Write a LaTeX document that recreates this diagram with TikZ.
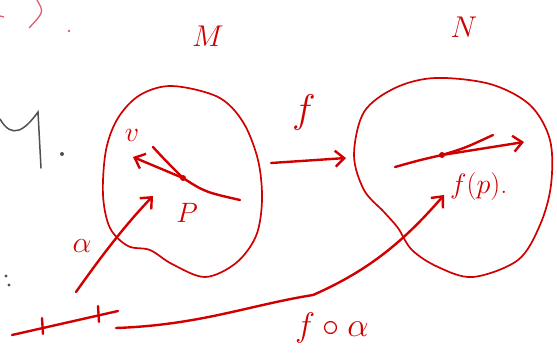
\RequirePackage{fix-cm}
\documentclass[tikz,border=0pt]{standalone}
\usepackage{amsmath,amssymb}
\usepackage{xcolor}
\usepackage{tikz}
\usetikzlibrary{positioning,arrows.meta,calc}

\definecolor{ink}{RGB}{208,0,0}
\definecolor{pinkink}{RGB}{225,90,110}
\definecolor{pencil}{RGB}{80,80,80}

\begin{document}
\begin{tikzpicture}[
        x=1pt, y=-1pt,
        stroke/.style ={draw=ink, line width=2.4pt, line cap=round, line join=round},
        blob/.style   ={draw=ink, line width=1.7pt},
        arr/.style    ={stroke, -{Straight Barb[length=9pt, width=16pt, line width=2.4pt]}},
        lbl/.style    ={text=ink, font=\fontsize{30}{30}\selectfont, inner sep=0pt},
        small/.style  ={text=ink, font=\fontsize{28}{28}\selectfont, inner sep=0pt},
        dotpt/.style  ={circle, fill=ink, inner sep=0pt, minimum size=6pt}
    ]
        \useasboundingbox (0,0) rectangle (557,360);
        % stray marks from the page
        \draw[pinkink, line width=1.3pt] (37,0) .. controls (44,12) .. (29,28);
        \draw[pinkink, line width=1.3pt] (0,16) -- (4,17);
        \fill[pinkink] (69,31) circle (1.4);
        \draw[pencil, line width=1.5pt, line cap=round] (0,119) .. controls (12,140) and (25,130) .. (38,112) -- (41,168);
        \fill[pencil] (62,154) circle (2);
        \fill[pencil] (6,276) circle (1.6);
        \fill[pencil] (9,285) circle (1.6);
        % the two manifolds
        \draw[blob] plot[smooth cycle, tension=0.55] coordinates {
            (172,86) (218,97) (243,122) (258,160) (262,200) (256,236) (236,263)
            (205,277) (172,264) (150,250) (128,246) (110,228) (103,195) (106,150)
            (118,118) (140,95)};
        \draw[blob] plot[smooth cycle, tension=0.55] coordinates {
            (435,78) (490,84) (530,105) (550,140) (551,185) (540,225) (518,260)
            (473,277) (438,267) (412,250) (398,228) (384,212) (364,190) (354,155)
            (364,112) (395,88)};
        \node[lbl] (Mlab) at (208,36) {$M$};
        \node[lbl] (Nlab) at (464,27) {$N$};
        % curve through p and its tangent vector v
        \coordinate (p) at (183,178);
        \draw[stroke] (153,147) .. controls (165,160) .. (p) .. controls (205,192) .. (240,200);
        \node[dotpt] (pdot) at (p) {};
        \coordinate (vtip) at (133,157);
        \draw[arr] (pdot) -- (vtip);
        \node[small] (vlab) at (132,135) {$v$};
        \node[small] (plab) at (187,213) {$P$};
        % image curve through f(p)
        \coordinate (fp) at (442,155);
        \draw[stroke] (395,167) .. controls (420,160) .. (fp) .. controls (465,148) .. (493,135);
        \node[dotpt] (fpdot) at (fp) {};
        \coordinate (wtip) at (524,142);
        \draw[arr] (fpdot) -- (wtip);
        \node[small, anchor=west] (fplab) at (450,186) {$f(p)$.};
        % the map f
        \coordinate (f0) at (271,163);
        \coordinate (f1) at (346,158);
        \draw[arr] (f0) -- (f1);
        \node[lbl, font=\fontsize{40}{40}\selectfont] (flab) at (304,112) {$f$};
        % interval with two ticks
        \coordinate (i0) at (12,335);
        \coordinate (i1) at (118,311);
        \draw[stroke] (i0) -- (i1);
        \foreach \tx/\ty in {42/328, 98/316}{
            \draw[stroke] (\tx,\ty-10) -- (\tx+1,\ty+6);
        }
        % alpha: interval -> M
        \coordinate (a0) at (76,292);
        \coordinate (a1) at (153,196);
        \draw[arr] (a0) .. controls (100,258) and (125,225) .. (a1);
        \node[lbl] (alab) at (82,246) {$\alpha$};
        % f o alpha: interval -> N
        \coordinate (c0) at (116,328);
        \coordinate (c1) at (444,195);
        \draw[arr] (c0) .. controls (200,325) and (250,305) .. (313,295)
                        .. controls (370,270) and (405,240) .. (c1);
        \node[lbl, font=\fontsize{34}{34}\selectfont] (falab) at (332,328) {$f\circ\alpha$};
    \end{tikzpicture}
\end{document}
